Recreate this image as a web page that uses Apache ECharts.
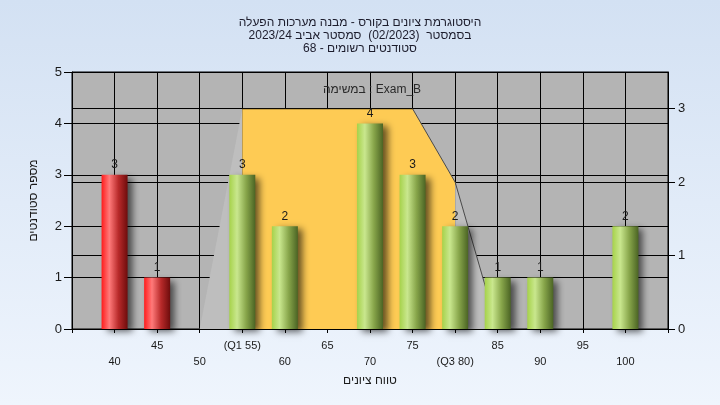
<!DOCTYPE html>
<html><head><meta charset="utf-8">
<script src="https://cdn.jsdelivr.net/npm/echarts@6/dist/echarts.min.js"></script>
<style>html,body{margin:0;padding:0;}#c{width:720px;height:405px;}</style>
</head><body><div id="c"></div>
<script>
const titleLines = ['היסטוגרמת ציונים בקורס - מבנה מערכות הפעלה', 'בסמסטר  (02/2023)  סמסטר אביב 2023/24', 'סטודנטים רשומים - 68'];
const subjectText = 'במשימה : Exam_B';
const xAxisName = 'טווח ציונים';
const yAxisName = 'מספר סטודנטים';
const categories = [40, 45, 50, 55, 60, 65, 70, 75, 80, 85, 90, 95, 100];
const counts = [3, 1, 0, 3, 2, 0, 4, 3, 2, 1, 1, 0, 2];
const tickLabels = ['40', '45', '50', '(Q1 55)', '60', '65', '70', '75', '(Q3 80)', '85', '90', '95', '100'];
const leftTicks = [0, 1, 2, 3, 4, 5];
const rightTicks = [0, 1, 2, 3];
const boxX = [50, 55, 75, 80, 85];
const boxY = [0, 3, 3, 2, 0];
const passMark = 50;

const FONT = '"Liberation Sans", "DejaVu Sans", Arial, sans-serif';
const chart = echarts.init(document.getElementById('c'), null, {renderer: 'canvas'});

function grad(stops) {
  return new echarts.graphic.LinearGradient(0, 0, 1, 0, stops.map((c) => ({offset: c[0], color: c[1]})));
}
const redGrad = () => grad([[0, '#ff1c1c'], [0.3, '#ff7a7a'], [0.65, '#b82a2a'], [1, '#6e0c0c']]);
const greenGrad = () => grad([[0, '#a6d24a'], [0.3, '#c9e78e'], [0.65, '#87a54a'], [1, '#4b6424']]);

const barData = categories.map((c, i) => ({
  value: [c, counts[i]],
  itemStyle: {color: c < passMark ? redGrad() : greenGrad()},
  label: {show: counts[i] > 0}
}));

const pts = boxX.map((x, i) => [x, boxY[i]]);

option = {
  backgroundColor: new echarts.graphic.LinearGradient(0, 0, 0, 1, [{offset: 0, color: '#d3e1f3'}, {offset: 1, color: '#eff5fd'}]),
  animation: false,
  textStyle: {fontFamily: FONT},
  title: [{
    text: titleLines.join('\n'),
    left: 'center', top: 11,
    textStyle: {fontSize: 12, fontWeight: 'normal', color: '#1c1c2c', lineHeight: 13, fontFamily: FONT}
  }, {
    text: subjectText,
    left: 367, top: 79, textAlign: 'center',
    textStyle: {fontSize: 12, fontWeight: 'normal', color: '#2a2a2a', fontFamily: FONT}
  }],
  grid: {left: 72, right: 52, top: 72, bottom: 76, show: true, backgroundColor: '#b4b4b4', borderColor: '#000', borderWidth: 1},
  xAxis: {
    type: 'value', min: 35, max: 105, interval: 5,
    name: xAxisName, nameLocation: 'middle', nameGap: 46,
    nameTextStyle: {fontSize: 12, color: '#1a1a1a', fontFamily: FONT},
    axisLine: {show: true, lineStyle: {color: '#000'}},
    axisTick: {show: true, length: 4, lineStyle: {color: '#000'}},
    splitLine: {show: true, lineStyle: {color: '#000', width: 1}},
    axisLabel: {
      margin: 9, fontSize: 11, color: '#1a1a1a', lineHeight: 16, fontFamily: FONT,
      showMinLabel: true, showMaxLabel: true,
      formatter: v => {
        const idx = categories.indexOf(v);
        if (idx < 0) return '';
        return idx % 2 === 0 ? '\n' + tickLabels[idx] : tickLabels[idx];
      }
    }
  },
  yAxis: [{
    type: 'value', min: 0, max: 5, interval: 1, position: 'left',
    name: yAxisName, nameLocation: 'middle', nameGap: 32, nameRotate: 90,
    nameTextStyle: {fontSize: 12, color: '#1a1a1a', fontFamily: FONT},
    axisLine: {show: true, lineStyle: {color: '#000'}},
    axisTick: {show: true, length: 8, lineStyle: {color: '#000'}},
    splitLine: {show: true, lineStyle: {color: '#000', width: 1}},
    axisLabel: {margin: 10, fontSize: 13, color: '#1a1a1a', fontFamily: FONT}
  }, {
    type: 'value', min: 0, max: 3.5, interval: 1, position: 'right',
    axisLine: {show: true, lineStyle: {color: '#000'}},
    axisTick: {show: true, length: 7, lineStyle: {color: '#000'}, customValues: rightTicks},
    splitLine: {show: true, lineStyle: {color: '#000', width: 1}},
    axisLabel: {margin: 10, fontSize: 13, color: '#1a1a1a', fontFamily: FONT, customValues: rightTicks,
      formatter: v => (rightTicks.indexOf(v) >= 0 ? String(v) : '')}
  }],
  series: [
    {type: 'line', yAxisIndex: 1, data: pts.slice(0, 2), symbol: 'none', lineStyle: {width: 0}, areaStyle: {color: '#bebebe', opacity: 1}, z: 1, silent: true},
    {type: 'line', yAxisIndex: 1, data: pts.slice(1, 4), symbol: 'none', lineStyle: {width: 0}, areaStyle: {color: '#fecb54', opacity: 1}, z: 1, silent: true},
    {type: 'line', yAxisIndex: 1, data: pts.slice(3, 5), symbol: 'none', lineStyle: {width: 0}, areaStyle: {color: '#bebebe', opacity: 1}, z: 1, silent: true},
    {type: 'line', yAxisIndex: 1, data: pts.slice(1, 3), symbol: 'none', lineStyle: {width: 1, color: '#000'}, z: 2, silent: true},
    {type: 'line', yAxisIndex: 1, data: pts.slice(2, 5), symbol: 'none', lineStyle: {width: 1, color: '#4a4a4a'}, z: 2, silent: true},
    {
      type: 'bar', yAxisIndex: 0, data: barData, barWidth: 26, z: 5,
      itemStyle: {shadowColor: 'rgba(0,0,0,0.6)', shadowBlur: 7, shadowOffsetX: 5, shadowOffsetY: 3},
      label: {position: 'top', distance: 4, fontSize: 12, color: '#1a1a1a', fontFamily: FONT, formatter: p => String(p.value[1])}
    }
  ]
};
chart.setOption(option);
</script></body></html>
